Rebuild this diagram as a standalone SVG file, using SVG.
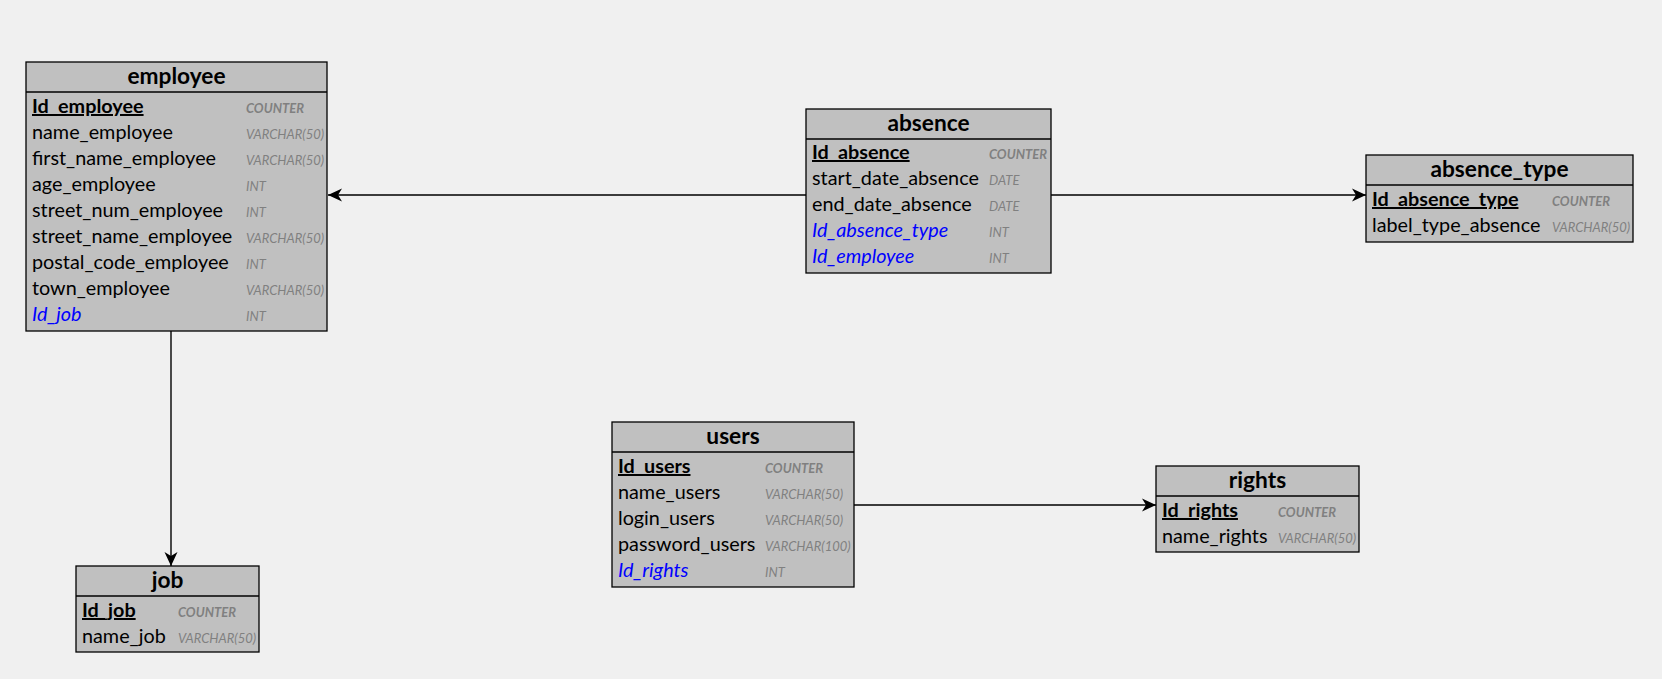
<svg xmlns="http://www.w3.org/2000/svg" width="1662" height="679" viewBox="0 0 1662 679">
<style>
.bg{fill:#f0f0f0}
.box{fill:#c0c0c0;stroke:#000;stroke-width:1.3}
.sep{stroke:#000;stroke-width:1.3}
.title{font-family:Lato,"Liberation Sans",sans-serif;font-size:22.7px;font-weight:bold;fill:#000;text-anchor:middle}
.f{font-family:Lato,"Liberation Sans",sans-serif;font-size:19.8px;fill:#000}
.pk{font-weight:bold;text-decoration:underline}
.fk{fill:#0000ff;font-style:italic}
.t{font-family:Lato,"Liberation Sans",sans-serif;font-size:13px;font-style:italic;fill:#808080}
.tc{font-weight:bold}
.conn{stroke:#000;stroke-width:1.4;fill:none}
</style>
<defs>
<marker id="arr" markerUnits="userSpaceOnUse" markerWidth="16" markerHeight="14" viewBox="-15 -7 16 14" refX="0" refY="0" orient="auto">
<path d="M0,0 L-14,-6.5 L-10,0 L-14,6.5 Z" fill="#000"/>
</marker>
</defs>
<rect class="bg" x="0" y="0" width="1662" height="679"/>
<g id="connectors">
<line class="conn" x1="806" y1="195" x2="328" y2="195" marker-end="url(#arr)"/>
<line class="conn" x1="1051" y1="195" x2="1366" y2="195" marker-end="url(#arr)"/>
<line class="conn" x1="171" y1="331" x2="171" y2="566" marker-end="url(#arr)"/>
<line class="conn" x1="854" y1="505" x2="1156" y2="505" marker-end="url(#arr)"/>
</g>
<g id="employee">
<rect class="box" x="26" y="62" width="301" height="269"/>
<line class="sep" x1="26" y1="92" x2="327" y2="92"/>
<text class="title" x="176.5" y="84">employee</text>
<text class="f pk" x="32" y="113">Id_employee</text><text class="t tc" x="246" y="113">COUNTER</text>
<text class="f" x="32" y="139">name_employee</text><text class="t" x="246" y="139">VARCHAR(50)</text>
<text class="f" x="32" y="165">first_name_employee</text><text class="t" x="246" y="165">VARCHAR(50)</text>
<text class="f" x="32" y="191">age_employee</text><text class="t" x="246" y="191">INT</text>
<text class="f" x="32" y="217">street_num_employee</text><text class="t" x="246" y="217">INT</text>
<text class="f" x="32" y="243">street_name_employee</text><text class="t" x="246" y="243">VARCHAR(50)</text>
<text class="f" x="32" y="269">postal_code_employee</text><text class="t" x="246" y="269">INT</text>
<text class="f" x="32" y="295">town_employee</text><text class="t" x="246" y="295">VARCHAR(50)</text>
<text class="f fk" x="32" y="321">Id_job</text><text class="t" x="246" y="321">INT</text>
</g>
<g id="absence">
<rect class="box" x="806" y="109" width="245" height="164"/>
<line class="sep" x1="806" y1="139" x2="1051" y2="139"/>
<text class="title" x="928.5" y="131">absence</text>
<text class="f pk" x="812" y="159">Id_absence</text><text class="t tc" x="989" y="159">COUNTER</text>
<text class="f" x="812" y="185">start_date_absence</text><text class="t" x="989" y="185">DATE</text>
<text class="f" x="812" y="211">end_date_absence</text><text class="t" x="989" y="211">DATE</text>
<text class="f fk" x="812" y="237">Id_absence_type</text><text class="t" x="989" y="237">INT</text>
<text class="f fk" x="812" y="263">Id_employee</text><text class="t" x="989" y="263">INT</text>
</g>
<g id="absence_type">
<rect class="box" x="1366" y="155" width="267" height="87"/>
<line class="sep" x1="1366" y1="185" x2="1633" y2="185"/>
<text class="title" x="1499.5" y="177">absence_type</text>
<text class="f pk" x="1372" y="206">Id_absence_type</text><text class="t tc" x="1552" y="206">COUNTER</text>
<text class="f" x="1372" y="232">label_type_absence</text><text class="t" x="1552" y="232">VARCHAR(50)</text>
</g>
<g id="users">
<rect class="box" x="612" y="422" width="242" height="165"/>
<line class="sep" x1="612" y1="452" x2="854" y2="452"/>
<text class="title" x="733" y="444">users</text>
<text class="f pk" x="618" y="473">Id_users</text><text class="t tc" x="765" y="473">COUNTER</text>
<text class="f" x="618" y="499">name_users</text><text class="t" x="765" y="499">VARCHAR(50)</text>
<text class="f" x="618" y="525">login_users</text><text class="t" x="765" y="525">VARCHAR(50)</text>
<text class="f" x="618" y="551">password_users</text><text class="t" x="765" y="551">VARCHAR(100)</text>
<text class="f fk" x="618" y="577">Id_rights</text><text class="t" x="765" y="577">INT</text>
</g>
<g id="rights">
<rect class="box" x="1156" y="466" width="203" height="86"/>
<line class="sep" x1="1156" y1="496" x2="1359" y2="496"/>
<text class="title" x="1257.5" y="488">rights</text>
<text class="f pk" x="1162" y="517">Id_rights</text><text class="t tc" x="1278" y="517">COUNTER</text>
<text class="f" x="1162" y="543">name_rights</text><text class="t" x="1278" y="543">VARCHAR(50)</text>
</g>
<g id="job">
<rect class="box" x="76" y="566" width="183" height="86"/>
<line class="sep" x1="76" y1="596" x2="259" y2="596"/>
<text class="title" x="167.5" y="588">job</text>
<text class="f pk" x="82" y="617">Id_job</text><text class="t tc" x="178" y="617">COUNTER</text>
<text class="f" x="82" y="643">name_job</text><text class="t" x="178" y="643">VARCHAR(50)</text>
</g>
</svg>
